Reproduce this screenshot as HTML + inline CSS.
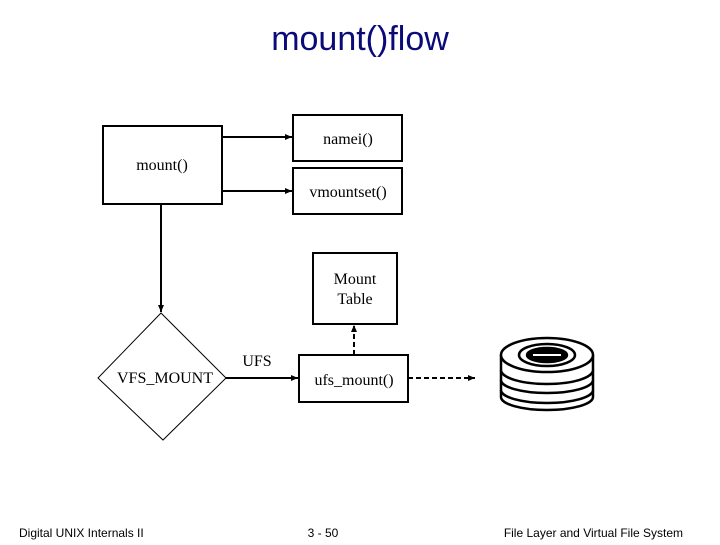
<!DOCTYPE html>
<html><head><style>
body{margin:0;background:#fff;width:720px;height:540px;overflow:hidden}
text{font-family:"Liberation Serif",serif;font-size:16px;fill:#000}
.s{font-family:"Liberation Sans",sans-serif;font-size:12px}
</style></head><body>
<svg width="720" height="540" xmlns="http://www.w3.org/2000/svg">
<defs><marker id="a" markerWidth="8" markerHeight="8" refX="7" refY="4" orient="auto" markerUnits="userSpaceOnUse"><path d="M0,1 L7,4 L0,7z" fill="#000"/></marker></defs>
<text x="360" y="50" text-anchor="middle" style="font-family:'Liberation Sans',sans-serif;font-size:34px;fill:#0a0a78">mount()flow</text>
<g fill="none" stroke="#000" stroke-width="2">
<rect x="103" y="126" width="119" height="78"/>
<rect x="293" y="115" width="109" height="46"/>
<rect x="293" y="168" width="109" height="46"/>
<rect x="313" y="253" width="84" height="71"/>
<rect x="299" y="355" width="109" height="47"/>
<line x1="222" y1="137" x2="292" y2="137" marker-end="url(#a)"/>
<line x1="222" y1="191" x2="292" y2="191" marker-end="url(#a)"/>
<line x1="161" y1="204" x2="161" y2="312" marker-end="url(#a)"/>
<line x1="226" y1="378" x2="298" y2="378" marker-end="url(#a)"/>
<line x1="354" y1="355" x2="354" y2="325" stroke-dasharray="5,3" marker-end="url(#a)"/>
<line x1="408" y1="378" x2="475" y2="378" stroke-dasharray="5,3" marker-end="url(#a)"/>
</g>
<path d="M161,313 L226,378 L163,440 L98,378Z" fill="none" stroke="#000" stroke-width="1"/>
<text x="162" y="170" text-anchor="middle">mount()</text>
<text x="348" y="144" text-anchor="middle">namei()</text>
<text x="348" y="197" text-anchor="middle">vmountset()</text>
<text x="355" y="284" text-anchor="middle">Mount</text>
<text x="355" y="304" text-anchor="middle">Table</text>
<text x="354" y="385" text-anchor="middle">ufs_mount()</text>
<text x="165" y="383" text-anchor="middle">VFS_MOUNT</text>
<text x="257" y="366" text-anchor="middle">UFS</text>
<g stroke="#000" stroke-width="2.5" fill="#fff">
<path d="M501,390 L501,397 A46,13 0 0 0 593,397 L593,390"/>
<path d="M501,380 L501,390 A46,13 0 0 0 593,390 L593,380"/>
<path d="M501,370 L501,380 A46,13 0 0 0 593,380 L593,370"/>
<path d="M501,355 L501,370 A46,14 0 0 0 593,370 L593,355"/>
<ellipse cx="547" cy="355" rx="46" ry="17"/>
<ellipse cx="547" cy="355" rx="28" ry="11"/>
<ellipse cx="547" cy="355" rx="20" ry="7" fill="#000"/>
</g>
<line x1="533" y1="355" x2="561" y2="355" stroke="#fff" stroke-width="2"/>
<text class="s" x="19" y="537">Digital UNIX Internals II</text>
<text class="s" x="323" y="537" text-anchor="middle">3 - 50</text>
<text class="s" x="683" y="537" text-anchor="end">File Layer and Virtual File System</text>
</svg>
</body></html>
